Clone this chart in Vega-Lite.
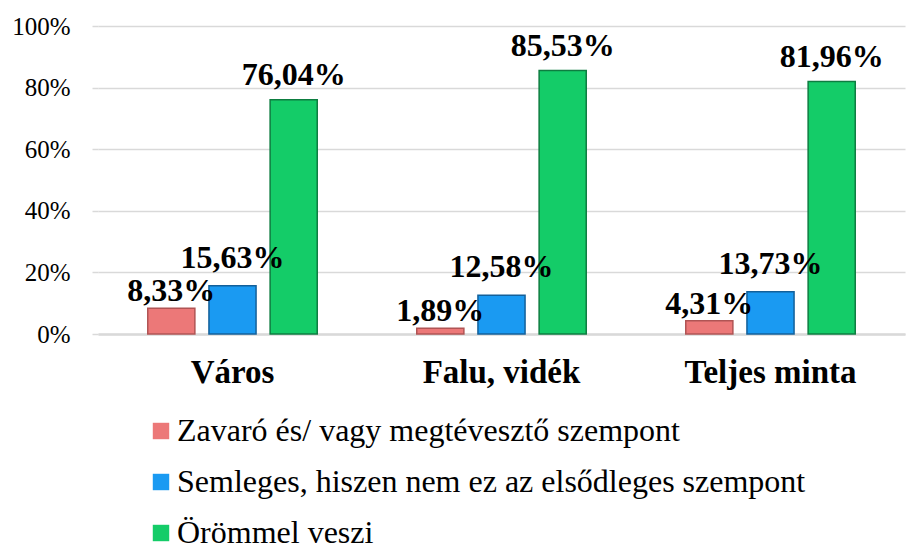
{
  "$schema": "https://vega.github.io/schema/vega-lite/v6.json",
  "autosize": {"type": "none"},
  "padding": {"left": 98, "top": 26, "right": 5, "bottom": 212},
  "width": 807,
  "height": 308,
  "background": "white",
  "data": {
    "values": [
      {"cat": "Város", "series": "Zavaró és/ vagy megtévesztő szempont", "value": 0.0833},
      {"cat": "Város", "series": "Semleges, hiszen nem ez az elsődleges szempont", "value": 0.1563},
      {"cat": "Város", "series": "Örömmel veszi", "value": 0.7604},
      {"cat": "Falu, vidék", "series": "Zavaró és/ vagy megtévesztő szempont", "value": 0.0189},
      {"cat": "Falu, vidék", "series": "Semleges, hiszen nem ez az elsődleges szempont", "value": 0.1258},
      {"cat": "Falu, vidék", "series": "Örömmel veszi", "value": 0.8553},
      {"cat": "Teljes minta", "series": "Zavaró és/ vagy megtévesztő szempont", "value": 0.0431},
      {"cat": "Teljes minta", "series": "Semleges, hiszen nem ez az elsődleges szempont", "value": 0.1373},
      {"cat": "Teljes minta", "series": "Örömmel veszi", "value": 0.8196}
    ]
  },
  "encoding": {
    "x": {
      "field": "cat", "type": "nominal",
      "sort": ["Város", "Falu, vidék", "Teljes minta"],
      "scale": {"paddingInner": 0.37, "paddingOuter": 0.185},
      "axis": {
        "title": null, "labelAngle": 0, "ticks": false,
        "domain": true, "domainColor": "#d9d9d9", "domainWidth": 2.5,
        "labelFont": "Liberation Serif", "labelFontSize": 33, "labelFontWeight": "bold",
        "labelColor": "#000000", "labelPadding": 22
      }
    },
    "xOffset": {
      "field": "series", "type": "nominal",
      "sort": ["Zavaró és/ vagy megtévesztő szempont", "Semleges, hiszen nem ez az elsődleges szempont", "Örömmel veszi"],
      "scale": {
        "domain": ["Zavaró és/ vagy megtévesztő szempont", "Semleges, hiszen nem ez az elsődleges szempont", "Örömmel veszi"],
        "paddingInner": 0.23, "paddingOuter": 0
      }
    },
    "y": {
      "field": "value", "type": "quantitative",
      "scale": {"domain": [0, 1], "nice": false},
      "axis": {
        "title": null, "values": [0, 0.2, 0.4, 0.6, 0.8, 1], "format": ".0%",
        "domain": false, "ticks": true, "tickSize": 6, "tickColor": "#d9d9d9", "tickWidth": 1.5,
        "grid": true, "gridColor": "#d9d9d9", "gridWidth": 1.5,
        "labelFont": "Liberation Serif", "labelFontSize": 25, "labelColor": "#000000",
        "labelPadding": 22
      }
    }
  },
  "layer": [
    {
      "mark": {"type": "bar", "strokeWidth": 1.5},
      "encoding": {
        "color": {
          "field": "series", "type": "nominal",
          "sort": ["Zavaró és/ vagy megtévesztő szempont", "Semleges, hiszen nem ez az elsődleges szempont", "Örömmel veszi"],
          "scale": {
            "domain": ["Zavaró és/ vagy megtévesztő szempont", "Semleges, hiszen nem ez az elsődleges szempont", "Örömmel veszi"],
            "range": ["#ec7878", "#1a9af2", "#14cc68"]
          },
          "legend": {
            "title": null, "orient": "none", "legendX": 47, "legendY": 389,
            "direction": "vertical", "symbolType": "square", "symbolSize": 270,
            "symbolStrokeWidth": 0, "labelFont": "Liberation Serif", "labelFontSize": 32,
            "labelColor": "#000000", "labelOffset": 0, "rowPadding": 19, "labelLimit": 800
          }
        },
        "stroke": {
          "field": "series", "type": "nominal",
          "scale": {
            "domain": ["Zavaró és/ vagy megtévesztő szempont", "Semleges, hiszen nem ez az elsődleges szempont", "Örömmel veszi"],
            "range": ["#b05454", "#13609a", "#0d7d40"]
          },
          "legend": null
        }
      }
    },
    {
      "transform": [{"filter": "datum.series === 'Zavaró és/ vagy megtévesztő szempont'"}],
      "mark": {
        "type": "text", "baseline": "alphabetic", "dy": -7,
        "font": "Liberation Serif", "fontSize": 32, "fontWeight": "bold", "color": "#000000"
      },
      "encoding": {
        "text": {"field": "value", "type": "quantitative", "format": ".2%"}
      }
    },
    {
      "transform": [{"filter": "datum.series === 'Semleges, hiszen nem ez az elsődleges szempont'"}],
      "mark": {
        "type": "text", "baseline": "alphabetic", "dy": -18,
        "font": "Liberation Serif", "fontSize": 32, "fontWeight": "bold", "color": "#000000"
      },
      "encoding": {
        "text": {"field": "value", "type": "quantitative", "format": ".2%"}
      }
    },
    {
      "transform": [{"filter": "datum.series === 'Örömmel veszi'"}],
      "mark": {
        "type": "text", "baseline": "alphabetic", "dy": -15,
        "font": "Liberation Serif", "fontSize": 32, "fontWeight": "bold", "color": "#000000"
      },
      "encoding": {
        "text": {"field": "value", "type": "quantitative", "format": ".2%"}
      }
    }
  ],
  "config": {
    "view": {"stroke": null},
    "locale": {
      "number": {"decimal": ",", "thousands": " ", "grouping": [3], "currency": ["", " Ft"]}
    }
  }
}
